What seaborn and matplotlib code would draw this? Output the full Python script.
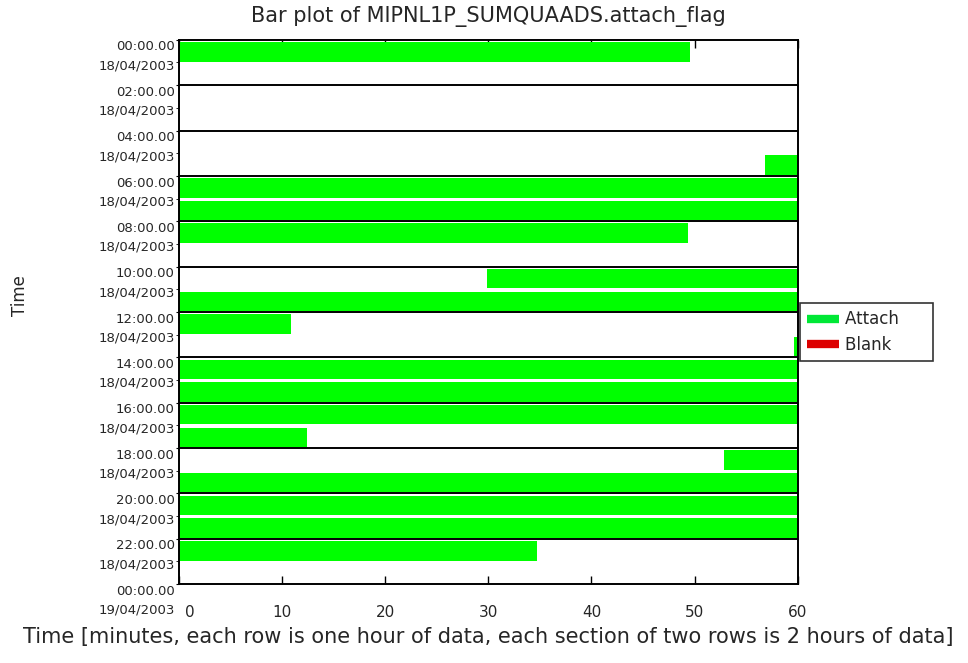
import numpy as np
import pandas as pd
import matplotlib
matplotlib.use("Agg")
import matplotlib.pyplot as plt
import matplotlib.transforms as mtrans
from matplotlib.lines import Line2D
import seaborn as sns

# one row per hour, bars give the minutes of the hour that have data
seg_hour = [0, 5, 6, 7, 8, 10, 11, 12, 13, 14, 15, 16, 17, 18, 19, 20, 21, 22]
seg_start = [0, 56.8, 0, 0, 0, 29.9, 0, 0, 59.6, 0, 0, 0, 0, 52.9, 0, 0, 0, 0]
seg_end = [49.6, 60, 60, 60, 49.4, 60, 60, 10.9, 60, 60, 60, 60, 12.4, 60, 60, 60, 60, 34.7]

tick_hours = [0, 2, 4, 6, 8, 10, 12, 14, 16, 18, 20, 22, 24]
tick_times = ["00:00.00", "02:00.00", "04:00.00", "06:00.00", "08:00.00", "10:00.00",
              "12:00.00", "14:00.00", "16:00.00", "18:00.00", "20:00.00", "22:00.00", "00:00.00"]
tick_dates = ["18/04/2003"] * 12 + ["19/04/2003"]
x_ticks = [0, 10, 20, 30, 40, 50, 60]

df = pd.DataFrame({"hour": seg_hour, "start": seg_start, "end": seg_end})
df["width"] = df["end"] - df["start"]

sns.set_style("white")
plt.rcParams['font.family'] = ['DejaVu Sans']

fig = plt.figure(figsize=(9.68, 6.63), dpi=100)
ax = fig.add_axes([0.185, 0.119, 0.639, 0.821])

ax.barh(df["hour"] + 0.1, df["width"], left=df["start"], height=0.86, align="edge",
        color="#00ff00", edgecolor="none")

# section lines every two hours
for h in tick_hours[1:-1]:
    ax.axhline(h, color="black", lw=1.4)

ax.set_xlim(0, 60)
ax.set_ylim(24, 0)
ax.set_xticks(x_ticks)
ax.set_xticklabels([str(v) for v in x_ticks], fontsize=11)
ax.tick_params(axis="x", direction="in", length=6, top=True, bottom=True, pad=15,
               color="black", width=1)
ax.xaxis.get_ticklabels()[0].set_transform(
    ax.xaxis.get_ticklabels()[0].get_transform() + mtrans.ScaledTranslation(8/72, 0, fig.dpi_scale_trans))

ax.set_yticks(tick_hours)
ax.set_yticks(range(1, 24, 2), minor=True)
ax.set_yticklabels([t + "\n" + d for t, d in zip(tick_times, tick_dates)],
                   fontsize=9.5, linespacing=1.6)
ax.tick_params(axis="y", which="both", direction="out", length=2, left=True, pad=1, color="black")
off = mtrans.ScaledTranslation(0, -0.5/72, fig.dpi_scale_trans)
for lab in ax.get_yticklabels():
    lab.set_verticalalignment("top")
    lab.set_transform(lab.get_transform() + off)

for sp in ax.spines.values():
    sp.set_color("black")
    sp.set_linewidth(1.4)

ax.set_title("Bar plot of MIPNL1P_SUMQUAADS.attach_flag", fontsize=15, pad=13)
ax.set_xlabel("Time [minutes, each row is one hour of data, each section of two rows is 2 hours of data]",
              fontsize=15, labelpad=5)
ax.set_ylabel("Time", fontsize=12)
ax.yaxis.set_label_coords(-0.243, 0.531)

handles = [Line2D([0], [0], color="#00e836", lw=6, solid_capstyle="butt"),
           Line2D([0], [0], color="#dd0000", lw=6, solid_capstyle="butt")]
leg = fig.legend(handles, ["Attach     ", "Blank     "], loc="upper left", bbox_to_anchor=(0.826, 0.543),
                 borderaxespad=0, frameon=True, fancybox=False, edgecolor="black", fontsize=12,
                 handlelength=1.9, handletextpad=0.4, borderpad=0.45, labelspacing=0.45)
leg.get_frame().set_linewidth(1.2)

fig.savefig("out.png", dpi=100, facecolor="white")
